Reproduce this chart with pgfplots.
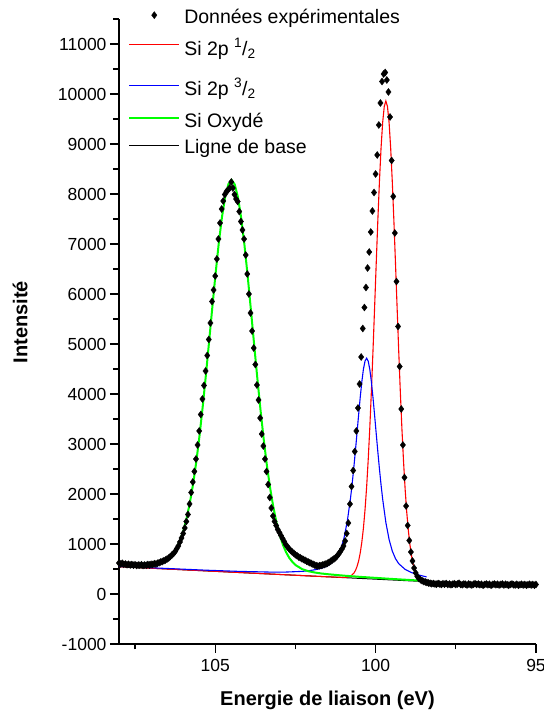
\documentclass[border=0pt]{standalone}
\usepackage{pgfplots}
\pgfplotsset{compat=1.18}
\usepackage{fontspec}
\setmainfont{Liberation Sans}
\newcommand{\st}[2]{\rule[-#2bp]{0pt}{\dimexpr #1bp+#2bp\relax}}
\begin{document}
\begin{tikzpicture}
\begin{axis}[
  at={(0,0)}, anchor=south west,
  scale only axis, width=417bp, height=625bp,
  xmin=95, xmax=108, x dir=reverse, ymin=-1000, ymax=11500,
  axis x line=bottom, axis y line=left,
  axis line style={-, line width=1.4bp},
  tick align=outside, major tick length=9bp, minor tick length=5.5bp,
  tick style={black, line width=1.3bp},
  xtick={95,100,105}, minor xtick={97.5,102.5,107.5},
  ytick={-1000,0,...,11000}, minor ytick={-500,500,...,11500},
  scaled y ticks=false, scaled x ticks=false,
  tick label style={font=\fontsize{17.5bp}{20bp}\selectfont},
  xticklabel style={yshift=-3bp},
  /pgf/number format/assume math mode=true,
  /pgf/number format/set thousands separator={},
  label style={font=\bfseries\fontsize{20bp}{24bp}\selectfont},
  xlabel={Energie de liaison (eV)}, ylabel={Intensité},
  xlabel style={at={(axis description cs:0.5,-0.0896)}, anchor=center},
  ylabel style={at={(axis description cs:-0.237,0.515)}, anchor=center},
  legend style={draw=none, fill=none, at={(axis description cs:0.0146,1.0296)}, anchor=north west,
    font=\fontsize{19.5bp}{23bp}\selectfont, row sep=-6bp, nodes={inner ysep=0pt, text depth=}},
  legend cell align=left,
  legend image code/.code={\draw[mark repeat=2,mark phase=2,#1] plot coordinates {(0bp,0bp) (25bp,0bp) (50bp,0bp)};},
]
\addplot[only marks, mark=diamond*, mark size=3.5bp, black] coordinates {
(108.00,620) (107.95,600) (107.90,615) (107.85,595) (107.80,600) (107.75,585) (107.70,595) (107.65,580)
(107.60,590) (107.55,575) (107.50,585) (107.45,570) (107.40,580) (107.35,575) (107.30,585) (107.25,570)
(107.20,580) (107.15,575) (107.10,590) (107.05,580) (107.00,595) (106.95,590) (106.90,605) (106.85,600)
(106.80,615) (106.75,625) (106.70,640) (106.65,650) (106.60,665) (106.55,680) (106.50,700) (106.45,720)
(106.40,750) (106.35,780) (106.30,810) (106.25,850) (106.20,905) (106.15,960) (106.10,1040) (106.05,1120)
(106.00,1210) (105.95,1320) (105.90,1450) (105.85,1590) (105.80,1800) (105.75,2030) (105.70,2240) (105.65,2450)
(105.60,2700) (105.55,2980) (105.50,3260) (105.45,3590) (105.40,3900) (105.35,4170) (105.30,4460) (105.25,4770)
(105.20,5090) (105.15,5420) (105.10,5850) (105.05,6080) (105.00,6360) (104.95,6700) (104.90,7100) (104.85,7420)
(104.80,7700) (104.75,7860) (104.70,7990) (104.65,8050) (104.60,8080) (104.55,8120) (104.50,8240) (104.45,8120)
(104.40,7990) (104.35,7900) (104.30,7850) (104.25,7650) (104.20,7450) (104.15,7280) (104.10,7100) (104.05,6780)
(104.00,6400) (103.95,6000) (103.90,5620) (103.85,5260) (103.80,4920) (103.75,4590) (103.70,4180) (103.65,3880)
(103.60,3520) (103.55,3200) (103.50,2960) (103.45,2700) (103.40,2450) (103.35,2190) (103.30,1930) (103.25,1720)
(103.20,1560) (103.15,1450) (103.10,1370) (103.05,1290) (103.00,1230) (102.95,1170) (102.90,1110) (102.85,1050)
(102.80,990) (102.75,945) (102.70,905) (102.65,870) (102.60,840) (102.55,815) (102.50,785) (102.45,765)
(102.40,740) (102.35,725) (102.30,705) (102.25,690) (102.20,675) (102.15,655) (102.10,640) (102.05,625)
(102.00,610) (101.95,595) (101.90,580) (101.85,565) (101.80,560) (101.75,565) (101.70,570) (101.65,580)
(101.60,590) (101.55,600) (101.50,615) (101.45,635) (101.40,655) (101.35,680) (101.30,700) (101.25,725)
(101.20,760) (101.15,800) (101.10,850) (101.05,900) (101.00,960) (100.95,1060) (100.90,1210) (100.85,1420)
(100.80,1800) (100.75,2150) (100.70,2470) (100.65,2850) (100.60,3260) (100.55,3720) (100.50,4200) (100.45,4740)
(100.40,5310) (100.35,5730) (100.30,6130) (100.25,6520) (100.20,6840) (100.15,7240) (100.10,7660) (100.05,8030)
(100.00,8400) (99.95,8780) (99.90,9380) (99.85,9820) (99.80,10250) (99.75,10400) (99.70,10430) (99.65,10280)
(99.60,10040) (99.55,9540) (99.50,8670) (99.45,7950) (99.40,7220) (99.35,6250) (99.30,5350) (99.25,4550)
(99.20,3700) (99.15,2980) (99.10,2330) (99.05,1760) (99.00,1370) (98.95,1070) (98.90,840) (98.85,660)
(98.80,520) (98.75,420) (98.70,350) (98.65,310) (98.60,285) (98.55,265) (98.50,250) (98.45,240)
(98.40,230) (98.35,220) (98.30,215) (98.25,205) (98.20,210) (98.15,200) (98.10,195) (98.05,210)
(98.00,200) (97.95,190) (97.90,205) (97.85,195) (97.80,210) (97.75,190) (97.70,200) (97.65,185)
(97.60,195) (97.55,205) (97.50,190) (97.45,200) (97.40,215) (97.35,190) (97.30,185) (97.25,200)
(97.20,195) (97.15,180) (97.10,200) (97.05,190) (97.00,180) (96.95,195) (96.90,205) (96.85,190)
(96.80,200) (96.75,185) (96.70,195) (96.65,175) (96.60,190) (96.55,200) (96.50,185) (96.45,195)
(96.40,175) (96.35,190) (96.30,200) (96.25,185) (96.20,195) (96.15,180) (96.10,190) (96.05,200)
(96.00,180) (95.95,195) (95.90,185) (95.85,175) (95.80,190) (95.75,200) (95.70,185) (95.65,180)
(95.60,195) (95.55,175) (95.50,185) (95.45,195) (95.40,180) (95.35,190) (95.30,175) (95.25,185)
(95.20,195) (95.15,180) (95.10,190) (95.05,175) (95.00,190)
};
\addlegendentry{\st{20.5}{4.5}\hspace*{2bp}Données expérimentales}
\addplot[black, line width=1bp, forget plot] coordinates {(108,547) (98.41,247)};
\addplot[color=red, line width=1.1bp] coordinates {
(108,547) (106,485) (104,422) (102.5,375) (101.5,344)
(100.98,331) (100.88,337) (100.78,358) (100.68,415) (100.63,468) (100.58,548) (100.53,660) (100.48,819)
(100.43,1034) (100.38,1318) (100.33,1683) (100.28,2139) (100.23,2692) (100.18,3339) (100.13,4079) (100.08,4891)
(100.03,5754) (99.98,6629) (99.93,7480) (99.88,8260) (99.83,8924) (99.78,9433) (99.73,9752) (99.68,9860)
(99.63,9749) (99.58,9427) (99.53,8915) (99.48,8247) (99.43,7464) (99.38,6610) (99.33,5732) (99.28,4866)
(99.23,4051) (99.18,3308) (99.13,2658) (99.08,2101) (99.03,1642) (98.98,1274) (98.93,987) (98.88,762)
(98.83,593) (98.78,492) (98.73,409) (98.68,352) (98.58,265) (98.48,253) (98.41,247)
};
\addlegendentry{\st{33.8}{11.8}\hspace*{2bp}Si 2p \textsuperscript{1}/\textsubscript{2}}
\addplot[color=blue, line width=1.1bp] coordinates {
(108,553) (105.28,476) (104.28,453) (103.28,438) (102.78,439) (102.28,453) (102.08,466) (101.88,486)
(101.68,516) (101.48,568) (101.28,670) (101.18,764) (101.08,910) (100.98,1134) (100.88,1466) (100.78,1928)
(100.73,2211) (100.68,2523) (100.63,2862) (100.58,3219) (100.53,3581) (100.48,3930) (100.43,4243) (100.38,4496)
(100.33,4659) (100.28,4716) (100.23,4656) (100.18,4489) (100.13,4234) (100.08,3917) (100.03,3566) (99.98,3200)
(99.93,2841) (99.88,2498) (99.83,2182) (99.78,1897) (99.68,1429) (99.58,1091) (99.48,859) (99.38,707)
(99.28,607) (99.08,493) (98.88,429) (98.68,385) (98.48,353) (98.41,343)
};
\addlegendentry{\st{33.9}{13.9}\hspace*{2bp}Si 2p \textsuperscript{3}/\textsubscript{2}}
\addplot[color=green, line width=2bp] coordinates {
(108.00,586) (107.49,584) (107.29,585) (107.09,592) (106.89,605) (106.69,635) (106.49,701) (106.39,757)
(106.29,834) (106.19,941) (106.09,1085) (105.99,1275) (105.89,1519) (105.79,1825) (105.69,2200) (105.59,2646)
(105.49,3165) (105.39,3747) (105.29,4384) (105.19,5055) (105.09,5737) (104.99,6401) (104.89,7013) (104.79,7538)
(104.69,7940) (104.59,8195) (104.49,8280) (104.39,8189) (104.29,7928) (104.19,7519) (104.09,6988) (103.99,6370)
(103.89,5699) (103.79,5011) (103.69,4334) (103.59,3691) (103.49,3102) (103.39,2577) (103.29,2125) (103.19,1744)
(103.09,1431) (102.99,1181) (102.89,985) (102.79,834) (102.69,721) (102.59,638) (102.49,576) (102.29,497)
(102.09,455) (101.89,429) (101.69,410) (101.49,396) (100.99,367) (100.49,343) (99.49,301) (98.49,263) (98.41,260)
};
\addlegendentry{\st{24.4}{6.4}\hspace*{2bp}Si Oxydé}
\addlegendimage{black, line width=1bp}
\addlegendentry{\st{26}{10}\hspace*{2bp}Ligne de base}
\end{axis}
\pgfresetboundingbox
\useasboundingbox (-119bp,-74bp) rectangle (425bp,644bp);
\end{tikzpicture}
\end{document}
